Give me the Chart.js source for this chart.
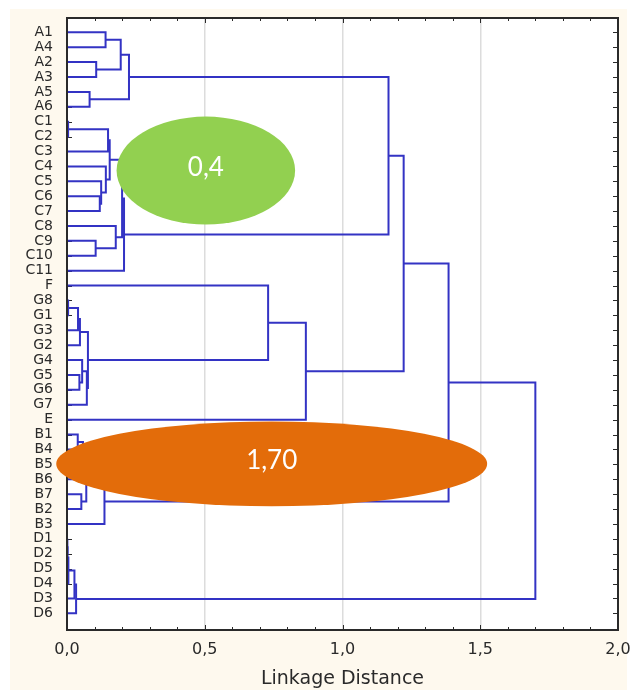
<!DOCTYPE html>
<html>
<head>
<meta charset="utf-8">
<script src="https://cdn.jsdelivr.net/npm/chart.js@4.4.1/dist/chart.umd.min.js"></script>
<style>
  html, body { margin: 0; padding: 0; background: #ffffff; }
  #wrap { position: relative; width: 633px; height: 690px; overflow: hidden; }
  #paper { position: absolute; left: 10px; top: 9px; width: 617px; height: 681px; background: #FEF9EE; }
  #c { position: absolute; left: 0; top: 0; }
</style>
</head>
<body>
<div id="wrap">
  <div id="paper"></div>
  <canvas id="c" width="633" height="690"></canvas>
</div>
<script>
// Leaf order of the tree, top to bottom
const leaves = [
  'A1','A4','A2','A3','A5','A6',
  'C1','C2','C3','C4','C5','C6','C7','C8','C9','C10','C11',
  'F','G8','G1','G3','G2','G4','G5','G6','G7','E',
  'B1','B4','B5','B6','B7','B2','B3',
  'D1','D2','D5','D4','D3','D6'
];

// Agglomeration steps: the clusters holding these two leaves are joined at the given distance
const joinLeft = [
  'A1','A2','A1','A5','A1',
  'C1','C1','C6','C5','C4','C1','C9','C8','C1','C1',
  'G8','G8','G8','G5','G4','G4','G8',
  'B1','B5','B1','B7','B1','B1',
  'D1','D1','D1','D1','D1',
  'A1','F','F','A1','A1','A1'
];
const joinRight = [
  'A4','A3','A2','A6','A5',
  'C2','C3','C7','C6','C5','C4','C10','C9','C8','C11',
  'G1','G3','G2','G6','G5','G7','G4',
  'B4','B6','B5','B2','B7','B3',
  'D2','D5','D4','D3','D6',
  'C1','G8','E','F','B1','D1'
];
const joinDistance = [
  0.140, 0.106, 0.195, 0.082, 0.225,
  0.004, 0.149, 0.119, 0.124, 0.141, 0.155, 0.104, 0.177, 0.200, 0.207,
  0.004, 0.040, 0.047, 0.045, 0.055, 0.072, 0.076,
  0.039, 0.030, 0.058, 0.052, 0.070, 0.136,
  0.002, 0.003, 0.005, 0.027, 0.033,
  1.167, 0.730, 0.867, 1.222, 1.385, 1.70
];

// Distance axis
const xTickValues = [0, 0.5, 1.0, 1.5, 2.0];
const xTickLabels = ['0,0', '0,5', '1,0', '1,5', '2,0'];

// Highlight callouts laid over the tree
const calloutTexts = ['0,4', '1,70'];
const calloutStyle = [
  { cx: 0.504, cy: 9.28,  rx: 0.324, ry: 3.62, fill: '#92D050' },
  { cx: 0.743, cy: 28.97, rx: 0.782, ry: 2.85, fill: '#E36C0A' }
];

// Build the dendrogram links: each join is a bracket from both children to the join distance
const owner = {};
leaves.forEach((name, i) => { owner[name] = { y: i, h: 0, members: [name] }; });
const links = [];
for (let k = 0; k < joinDistance.length; k++) {
  const a = owner[joinLeft[k]];
  const b = owner[joinRight[k]];
  const d = joinDistance[k];
  links.push([
    { x: a.h, y: a.y }, { x: d, y: a.y },
    { x: d, y: b.y }, { x: b.h, y: b.y }
  ]);
  const merged = { y: (a.y + b.y) / 2, h: d, members: a.members.concat(b.members) };
  merged.members.forEach(m => { owner[m] = merged; });
}

const LINE_BLUE = '#3333C4';
const AXIS_DARK = '#2a2a2a';

const frameAndTicks = {
  id: 'frameAndTicks',
  beforeDraw(chart) {
    const { ctx, chartArea: ca } = chart;
    ctx.save();
    ctx.fillStyle = '#ffffff';
    ctx.fillRect(ca.left, ca.top, ca.right - ca.left, ca.bottom - ca.top);
    ctx.restore();
  },
  beforeDatasetsDraw(chart) {
    const { ctx, chartArea: ca, scales } = chart;
    ctx.save();
    ctx.strokeStyle = AXIS_DARK;
    ctx.lineWidth = 1;
    ctx.beginPath();
    // inward minor ticks on the distance axes, every 0.1
    for (let i = 1; i < 20; i++) {
      const v = i / 10;
      const px = Math.round(scales.x.getPixelForValue(v)) + 0.5;
      const len = (i % 5 === 0) ? 5 : 3;
      ctx.moveTo(px, ca.top); ctx.lineTo(px, ca.top + len);
      ctx.moveTo(px, ca.bottom); ctx.lineTo(px, ca.bottom - len);
    }
    // inward ticks at every leaf row, both sides
    leaves.forEach((_, i) => {
      const py = Math.round(scales.y.getPixelForValue(i)) + 0.5;
      ctx.moveTo(ca.left, py); ctx.lineTo(ca.left + 5, py);
      ctx.moveTo(ca.right, py); ctx.lineTo(ca.right - 5, py);
    });
    ctx.stroke();
    ctx.restore();
  },
  afterDatasetsDraw(chart) {
    const { ctx, chartArea: ca } = chart;
    ctx.save();
    ctx.strokeStyle = AXIS_DARK;
    ctx.lineWidth = 2;
    ctx.strokeRect(ca.left, ca.top, ca.right - ca.left, ca.bottom - ca.top);
    ctx.restore();
  },
  afterDraw(chart) {
    const { ctx, scales } = chart;
    ctx.save();
    calloutStyle.forEach((c, i) => {
      const x0 = scales.x.getPixelForValue(c.cx);
      const y0 = scales.y.getPixelForValue(c.cy);
      const rx = Math.abs(scales.x.getPixelForValue(c.cx + c.rx) - x0);
      const ry = Math.abs(scales.y.getPixelForValue(c.cy + c.ry) - y0);
      ctx.beginPath();
      ctx.ellipse(x0, y0, rx, ry, 0, 0, Math.PI * 2);
      ctx.fillStyle = c.fill;
      ctx.fill();
      ctx.fillStyle = '#ffffff';
      ctx.font = '26px Lato, "Open Sans", sans-serif';
      ctx.textAlign = 'center';
      ctx.textBaseline = 'middle';
      ctx.fillText(calloutTexts[i], x0, y0 - 3);
    });
    ctx.restore();
  }
};

new Chart(document.getElementById('c'), {
  type: 'scatter',
  data: {
    datasets: links.map(pts => ({
      data: pts,
      showLine: true,
      borderColor: LINE_BLUE,
      borderWidth: 2,
      pointRadius: 0,
      pointHoverRadius: 0,
      fill: false,
      tension: 0
    }))
  },
  options: {
    responsive: false,
    animation: false,
    devicePixelRatio: 1,
    layout: { padding: { top: 18, right: 15, left: 0, bottom: 0 } },
    plugins: { legend: { display: false }, tooltip: { enabled: false } },
    scales: {
      x: {
        type: 'linear',
        position: 'bottom',
        min: 0,
        max: 2,
        afterBuildTicks: s => { s.ticks = xTickValues.map(v => ({ value: v })); },
        afterFit: s => {
          s.height = 60;
          s.paddingLeft = 0; s.paddingRight = 0;
        },
        ticks: {
          callback: (v, i) => xTickLabels[i],
          autoSkip: false,
          maxRotation: 0,
          padding: 10,
          color: AXIS_DARK,
          font: { family: '"DejaVu Sans"', size: 16 }
        },
        grid: { color: '#dcdcdc', lineWidth: 1.5, drawTicks: false },
        border: { display: false },
        title: {
          display: true,
          text: 'Linkage Distance',
          color: AXIS_DARK,
          font: { family: '"DejaVu Sans"', size: 19 },
          padding: { top: 0, bottom: 0 }
        }
      },
      y: {
        type: 'linear',
        reverse: true,
        min: -0.96,
        max: 40.12,
        afterBuildTicks: s => { s.ticks = leaves.map((_, i) => ({ value: i })); },
        afterFit: s => {
          s.width = 67;
          s.paddingTop = 0; s.paddingBottom = 0;
        },
        ticks: {
          callback: v => leaves[v],
          autoSkip: false,
          padding: 14,
          color: AXIS_DARK,
          font: { family: '"DejaVu Sans"', size: 14 }
        },
        grid: { display: false, drawTicks: false },
        border: { display: false }
      }
    }
  },
  plugins: [frameAndTicks]
});
</script>
</body>
</html>
